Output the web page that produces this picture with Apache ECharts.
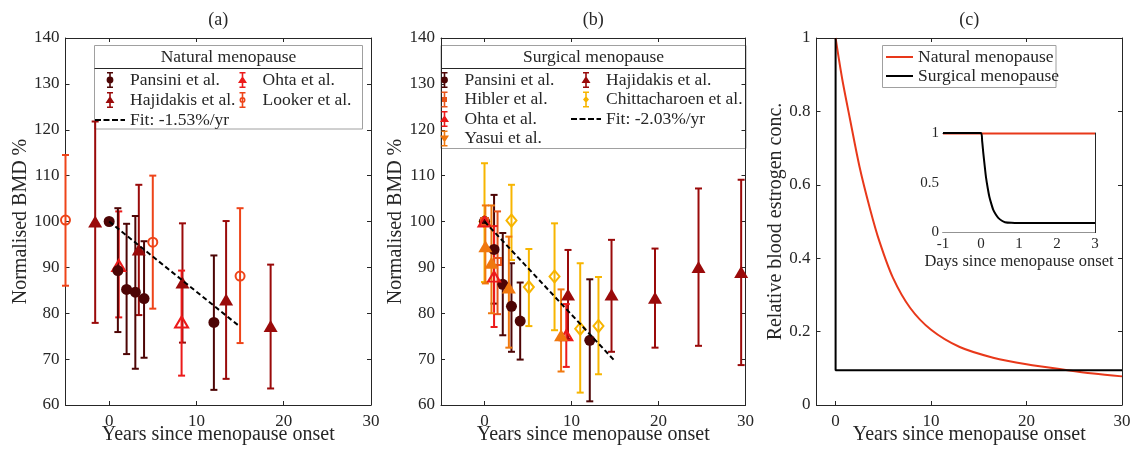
<!DOCTYPE html>
<html><head><meta charset="utf-8">
<script src="https://cdn.jsdelivr.net/npm/echarts@6/dist/echarts.min.js"></script>
<style>html,body{margin:0;padding:0;background:#fff}#c{width:1131px;height:452px}</style>
</head><body><div id="c"></div>
<script>
// ===== DATA =====
// rows: [years since onset, normalised BMD %, lower error, upper error]
const natPansini   = [[0,100,null,null],[1,89.3,75.9,102.9],[2,85.2,71.1,99.5],[3,84.6,67.9,101.2],[4,83.2,70.3,95.7],[12,78.0,63.3,92.6]];
const natHajidakis = [[-1.6,100,77.9,121.8],[3.4,93.9,79.6,108.0],[8.4,86.7,73.6,99.6],[13.4,83.0,65.7,100.1],[18.5,77.2,63.6,90.6]];
const natOhta      = [[1.1,90.4,79.1,102.2],[8.3,78.1,66.4,89.3]];
const natLooker    = [[-5,100.3,86.0,114.5],[5,95.5,81.0,110.0],[15,88.1,73.5,102.9]];
const natFit       = [[0,100],[15,77.05]];

const surgPansini   = [[0,100,null,null],[1.1,93.9,82.1,105.8],[2.1,86.3,75.2,97.5],[3.1,81.5,71.6,90.9],[4.1,78.3,69.9,86.7],[12.1,74.1,60.8,87.4]];
const surgHibler    = [[0,100,null,null],[1.5,91.3,79.8,102.2]];
const surgOhta      = [[0,100,null,null],[1.1,88.0,77.0,99.0],[9.4,75.2,68.3,82.0]];
const surgYasui     = [[0.1,94.6,86.5,103.5],[0.8,91.0,80.0,103.5],[2.8,85.6,72.5,96.7],[8.8,75.2,67.3,85.2]];
const surgHajidakis = [[9.6,84.1,74.4,93.8],[14.6,84.1,71.6,96.0],[19.6,83.4,72.5,94.1],[24.6,90.1,72.9,107.2],[29.5,89.0,68.7,109.1]];
const surgChitt     = [[0,100,86.8,112.7],[3.1,100.2,91.6,108.0],[5.1,85.7,77.2,94.0],[8.05,88.0,76.3,99.6],[11.0,76.6,62.7,90.9],[13.1,77.2,66.7,87.9]];
const surgFit       = [[0,100],[15,69.55]];

// panel (c): [years, relative estrogen]
const estNatural  = [[0,1],[0.3,0.95],[0.75,0.88],[1.5,0.78],[2.5,0.65],[3.6,0.535],[4.6,0.445],[6,0.347],[7.8,0.265],[10,0.205],[13,0.158],[16.5,0.129],[20,0.111],[24.3,0.095],[27,0.086],[30,0.078]];
const estSurgical = [[0,1],[0,0.095],[30,0.095]];
// inset: [days, relative estrogen]
const insNatural  = [[-1,0.995],[3,0.995]];
const insSurgical = [[-1,1],[0,1],[0.03,0.92],[0.06,0.80],[0.1,0.66],[0.13,0.56],[0.18,0.44],[0.22,0.36],[0.27,0.29],[0.32,0.23],[0.39,0.18],[0.46,0.144],[0.55,0.118],[0.63,0.104],[0.8,0.097],[1.0,0.095],[3,0.095]];

const yearTicks = [0,10,20,30];
const labels = {
  aPansini:'Pansini et al.', aHajidakis:'Hajidakis et al.', aOhta:'Ohta et al.', aLooker:'Looker et al.', aFit:'Fit: -1.53%/yr',
  bPansini:'Pansini et al.', bHibler:'Hibler et al.', bOhta:'Ohta et al.', bYasui:'Yasui et al.', bHajidakis:'Hajidakis et al.', bChitt:'Chittacharoen et al.', bFit:'Fit: -2.03%/yr',
  cNatural:'Natural menopause', cSurgical:'Surgical menopause'
};

// ===== STYLE =====
const FF = '"Liberation Serif", "DejaVu Serif", serif';
const AX = '#262626';
const C = {pansini:'#4d0505', hajidakis:'#9a0a0a', ohta:'#ec1a1a', looker:'#ee4419', hibler:'#e8541a', yasui:'#f0780e', chitt:'#f7b500', nat:'#e8381a', surg:'#000000'};

function xAxisPair(gi, min, max, name, title, opts) {
  opts = opts || {};
  const fs = opts.fs || 17;
  const base = {gridIndex:gi, type:'value', min:min, max:max,
    axisLine:{onZero:false, lineStyle:{color:AX, width:1}},
    splitLine:{show:false}};
  if (opts.interval) base.interval = opts.interval;
  const tickCfg = {inside:true, length:4, lineStyle:{color:AX}};
  if (opts.custom) tickCfg.customValues = opts.custom;
  const lab = {fontSize:fs, fontFamily:FF, color:AX, margin:opts.margin||10, lineHeight:fs-4, hideOverlap:false};
  if (opts.custom) lab.customValues = opts.custom;
  const nfs = opts.nfs || 20;
  const bottom = Object.assign({}, base, {position:'bottom', axisTick:tickCfg, axisLabel:lab,
    name:name, nameLocation:'middle', nameGap:opts.nameGap||24, nameMoveOverlap:false,
    nameTextStyle:{fontSize:nfs, fontFamily:FF, color:AX, lineHeight:nfs-8}});
  const top = Object.assign({}, base, {position:'top', axisTick:tickCfg, axisLabel:{show:false},
    name:title||'', nameLocation:'middle', nameGap:9, nameMoveOverlap:false,
    nameTextStyle:{fontSize:18, fontFamily:FF, color:AX}});
  return [bottom, top];
}
function yAxisPair(gi, min, max, interval, name, opts) {
  opts = opts || {};
  const base = {gridIndex:gi, type:'value', min:min, max:max, interval:interval,
    axisLine:{onZero:false, lineStyle:{color:AX, width:1}}, splitLine:{show:false},
    axisTick:{inside:true, length:4, lineStyle:{color:AX}}};
  const left = Object.assign({}, base, {position:'left',
    axisLabel:{fontSize:opts.fs||17, fontFamily:FF, color:AX, margin:opts.margin||6},
    name:name||'', nameLocation:'middle', nameGap:opts.nameGap||36, nameMoveOverlap:false,
    nameTextStyle:{fontSize:20, fontFamily:FF, color:AX}});
  const right = Object.assign({}, base, {position:'right', axisLabel:{show:false}});
  return [left, right];
}

function errSeries(name, rows, color, ai, z) {
  return {name:name, type:'custom', xAxisIndex:ai, yAxisIndex:ai, z:z||2, silent:true,
    data: rows.filter(r => r[2] !== null).map(r => [r[0], r[1], r[2], r[3]]),
    encode:{x:0, y:[2,3]},
    renderItem: function(params, api) {
      const x = api.value(0), lo = api.value(2), hi = api.value(3);
      const pT = api.coord([x, hi]), pB = api.coord([x, lo]);
      const cap = 3.5;
      const st = {stroke:color, lineWidth:2, fill:null};
      return {type:'group', children:[
        {type:'line', shape:{x1:pT[0], y1:pT[1], x2:pB[0], y2:pB[1]}, style:st},
        {type:'line', shape:{x1:pT[0]-cap, y1:pT[1], x2:pT[0]+cap, y2:pT[1]}, style:st},
        {type:'line', shape:{x1:pB[0]-cap, y1:pB[1], x2:pB[0]+cap, y2:pB[1]}, style:st}
      ]};
    }};
}
function markSeries(name, rows, symbol, size, color, open, ai, z, rotate) {
  return {name:name, type:'scatter', xAxisIndex:ai, yAxisIndex:ai, z:z||3, silent:true,
    symbol:symbol, symbolSize:size, symbolRotate:rotate||0,
    data: rows.map(r => [r[0], r[1]]),
    itemStyle: open ? {color:'rgba(255,255,255,0)', borderColor:color, borderWidth:2, opacity:1}
                    : {color:color, borderWidth:0, opacity:1}};
}
function fitSeries(name, rows, ai) {
  return {name:name, type:'line', xAxisIndex:ai, yAxisIndex:ai, z:6, silent:true, symbol:'none',
    data:rows, lineStyle:{color:'#000', width:2, type:[5,3]}, itemStyle:{color:'#000'}};
}

// legend icons (error bar + marker), 10x16 box
const BAR = 'M2 0 H8 V1.6 H2 Z M4.2 0 H5.8 V16 H4.2 Z M2 14.4 H8 V16 H2 Z ';
const IC = {
  circle: 'path://' + BAR + 'M5 4.6 A3.4 3.4 0 1 1 5 11.4 A3.4 3.4 0 1 1 5 4.6 Z',
  ring:   'path://' + BAR + 'M5 5 A3 3 0 1 1 5 11 A3 3 0 1 1 5 5 Z M5 6.5 A1.5 1.5 0 1 0 5 9.5 A1.5 1.5 0 1 0 5 6.5 Z',
  tri:    'path://' + BAR + 'M5 4 L9.5 11 L0.5 11 Z',
  dtri:   'path://' + BAR + 'M0.5 5 L9.5 5 L5 12 Z',
  square: 'path://' + BAR + 'M2.5 5.5 H7.5 V10.5 H2.5 Z',
  diam:   'path://' + BAR + 'M5 4.5 L8 8 L5 11.5 L2 8 Z',
  dash:   'path://M0 0 H6 V2 H0 Z M8.5 0 H14.5 V2 H8.5 Z M17 0 H23 V2 H17 Z M25.5 0 H30 V2 H25.5 Z',
  solid:  'path://M0 0 H27 V2 H0 Z'
};
function li(name, icon, color) { return {name:name, icon:icon, itemStyle:{color:color, borderWidth:0, opacity:1}}; }
function legendCol(left, top, gap, data, iw) {
  return {orient:'vertical', left:left, top:top, padding:0, itemGap:gap, itemWidth:iw||30, itemHeight:16,
    selectedMode:false, symbolKeepAspect:true, data:data,
    formatter: n => labels[n],
    textStyle:{fontSize:17.5, fontFamily:FF, color:AX, lineHeight:16}};
}

const xAxes = [].concat(
  xAxisPair(0, -5, 30, 'Years since menopause onset', '(a)', {custom:yearTicks}),
  xAxisPair(1, -5, 30, 'Years since menopause onset', '(b)', {custom:yearTicks}),
  xAxisPair(2, -2, 30, 'Years since menopause onset', '(c)', {custom:yearTicks}),
  xAxisPair(3, -1, 3, 'Days since menopause onset', '', {interval:1, fs:15, nfs:16.5, margin:6, nameGap:25})
);
const yAxes = [].concat(
  yAxisPair(0, 60, 140, 10, 'Normalised BMD %', {nameGap:35}),
  yAxisPair(1, 60, 140, 10, 'Normalised BMD %', {nameGap:35}),
  yAxisPair(2, 0, 1, 0.2, 'Relative blood estrogen conc.', {nameGap:31}),
  yAxisPair(3, 0, 1, 0.5, '', {fs:15, margin:4})
);
const A = 0, B = 2, Cc = 4, I = 6;

const series = [
  // (a)
  errSeries('aLookerErr', natLooker, C.looker, A), markSeries('aLooker', natLooker, 'circle', 9, C.looker, true, A),
  errSeries('aHajidakisErr', natHajidakis, C.hajidakis, A), markSeries('aHajidakis', natHajidakis, 'triangle', [14,12], C.hajidakis, false, A),
  errSeries('aOhtaErr', natOhta, C.ohta, A), markSeries('aOhta', natOhta, 'triangle', [13,11], C.ohta, true, A),
  errSeries('aPansiniErr', natPansini, C.pansini, A), markSeries('aPansini', natPansini, 'circle', 11, C.pansini, false, A),
  fitSeries('aFit', natFit, A),
  // (b)
  errSeries('bHajidakisErr', surgHajidakis, C.hajidakis, B), markSeries('bHajidakis', surgHajidakis, 'triangle', [14,12], C.hajidakis, false, B),
  errSeries('bChittErr', surgChitt, C.chitt, B), markSeries('bChitt', surgChitt, 'diamond', [10,12], C.chitt, true, B),
  errSeries('bPansiniErr', surgPansini, C.pansini, B), markSeries('bPansini', surgPansini, 'circle', 11, C.pansini, false, B),
  errSeries('bHiblerErr', surgHibler, C.hibler, B), markSeries('bHibler', surgHibler, 'rect', 7, C.hibler, true, B),
  errSeries('bOhtaErr', surgOhta, C.ohta, B), markSeries('bOhta', surgOhta, 'triangle', [12,10], C.ohta, true, B),
  errSeries('bYasuiErr', surgYasui, C.yasui, B), markSeries('bYasui', surgYasui, 'triangle', [14,12], C.yasui, false, B, 180),
  fitSeries('bFit', surgFit, B),
  // (c)
  {name:'cNatural', type:'line', xAxisIndex:Cc, yAxisIndex:Cc, data:estNatural, smooth:0.3, symbol:'none', silent:true,
   lineStyle:{color:C.nat, width:2}, itemStyle:{color:C.nat}, z:3},
  {name:'cSurgical', type:'line', xAxisIndex:Cc, yAxisIndex:Cc, data:estSurgical, symbol:'none', silent:true,
   lineStyle:{color:C.surg, width:2}, itemStyle:{color:C.surg}, z:3},
  {name:'iNatural', type:'line', xAxisIndex:I, yAxisIndex:I, data:insNatural, symbol:'none', silent:true,
   lineStyle:{color:C.nat, width:2}, z:8},
  {name:'iSurgical', type:'line', xAxisIndex:I, yAxisIndex:I, data:insSurgical, smooth:0.2, symbol:'none', silent:true,
   lineStyle:{color:C.surg, width:2}, z:9}
];

const option = {
  animation:false,
  backgroundColor:'#ffffff',
  textStyle:{fontFamily:FF},
  grid:[
    {left:65.5, top:38, width:305.5, height:367, outerBoundsMode:'none'},
    {left:441, top:38, width:304.5, height:367, outerBoundsMode:'none'},
    {left:816.5, top:38, width:305.5, height:367, outerBoundsMode:'none'},
    {left:943, top:133, width:152, height:99.5, outerBoundsMode:'none', show:true, backgroundColor:'#fff', borderWidth:0, z:7}
  ],
  xAxis: xAxes,
  yAxis: yAxes,
  legend:[
    legendCol(95, 71, 2, [li('aPansini', IC.circle, C.pansini), li('aHajidakis', IC.tri, C.hajidakis), li('aFit', IC.dash, '#000')]),
    legendCol(238, 71, 2, [li('aOhta', IC.tri, C.ohta), li('aLooker', IC.ring, C.looker)]),
    legendCol(440, 71, 1.5, [li('bPansini', IC.circle, C.pansini), li('bHibler', IC.square, C.hibler), li('bOhta', IC.tri, C.ohta), li('bYasui', IC.dtri, C.yasui)]),
    legendCol(571, 71, 1.5, [li('bHajidakis', IC.tri, C.hajidakis), li('bChitt', IC.diam, C.chitt), li('bFit', IC.dash, '#000')]),
    legendCol(886, 48, 1, [li('cNatural', IC.solid, C.nat), li('cSurgical', IC.solid, C.surg)], 27)
  ],
  graphic:[
    {type:'rect', z:-1, shape:{x:94.5, y:45.5, width:268, height:83.5}, style:{fill:'#fff', stroke:'#a0a0a0', lineWidth:1}},
    {type:'line', z:-1, shape:{x1:94.5, y1:68.5, x2:362.5, y2:68.5}, style:{stroke:'#262626', lineWidth:1}},
    {type:'text', z:5, x:228.5, y:57, style:{text:'Natural menopause', fontSize:17.5, fontFamily:FF, fill:AX, align:'center', verticalAlign:'middle'}},
    {type:'rect', z:-1, shape:{x:441, y:45.5, width:305, height:103}, style:{fill:'#fff', stroke:'#a0a0a0', lineWidth:1}},
    {type:'line', z:-1, shape:{x1:441, y1:68.5, x2:746, y2:68.5}, style:{stroke:'#262626', lineWidth:1}},
    {type:'text', z:5, x:593.5, y:57, style:{text:'Surgical menopause', fontSize:17.5, fontFamily:FF, fill:AX, align:'center', verticalAlign:'middle'}},
    {type:'rect', z:-1, shape:{x:882.5, y:45.5, width:173.5, height:42}, style:{fill:'#fff', stroke:'#a0a0a0', lineWidth:1}}
  ],
  series: series
};
const chart = echarts.init(document.getElementById('c'), null, {renderer:'canvas'});
chart.setOption(option);
</script></body></html>
